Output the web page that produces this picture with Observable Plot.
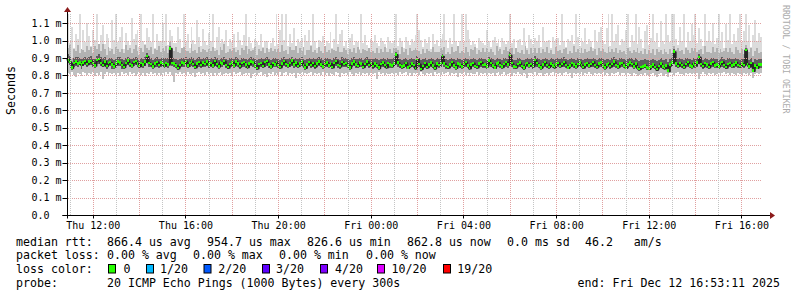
<!DOCTYPE html>
<html>
<head>
<meta charset="utf-8">
<script src="https://cdn.jsdelivr.net/npm/d3@7"></script>
<script src="https://cdn.jsdelivr.net/npm/@observablehq/plot@0.6"></script>
<style>
  html, body { margin: 0; padding: 0; background: #fff; }
  #wrap { position: relative; width: 797px; height: 297px; overflow: hidden; }
  #wrap svg { position: absolute; left: 0; top: 0; }
</style>
</head>
<body>
<div id="wrap"></div>
<script>
// ---- Data (microseconds), one value per 300 s step, 360 steps ending Fri Dec 12 16:53:11 2025 ----
const median = [
892,878,846,871,880,868,875,862,874,883,866,879,
884,870,858,887,893,872,860,881,855,870,876,864,
852,868,880,874,861,849,872,885,866,858,876,882,
868,854,871,862,880,910,872,866,852,869,878,861,
874,866,858,870,864,955,872,868,856,842,861,875,
868,883,856,872,879,866,848,869,877,860,873,866,
880,862,871,858,884,866,852,875,869,883,860,847,
866,874,858,881,868,853,870,876,862,849,867,880,
874,858,842,866,872,855,878,884,862,851,870,863,
876,860,848,869,882,865,857,871,886,862,874,855,
868,880,859,845,864,877,860,872,853,869,881,864,
852,866,875,858,869,848,872,884,861,854,878,866,
871,858,846,867,879,862,855,874,868,849,866,880,
860,872,853,868,858,844,866,875,860,848,871,862,
856,869,920,873,861,850,858,872,846,855,868,860,
842,895,866,838,853,870,848,862,874,856,843,867,
860,872,910,868,854,847,863,876,858,845,869,862,
851,866,877,858,843,862,871,855,848,867,876,859,
864,852,885,870,856,846,868,874,859,850,866,877,
862,917,870,852,848,866,873,855,844,862,871,858,
866,854,888,870,857,845,863,876,860,849,868,857,
848,864,872,855,866,878,860,846,858,870,862,851,
866,875,859,847,862,871,856,865,878,860,849,868,
874,858,845,862,870,853,866,879,861,850,868,872,
858,846,862,874,866,852,869,845,838,848,852,858,
846,840,852,862,848,836,855,868,850,842,858,827,
862,874,936,868,855,872,860,848,866,877,858,852,
868,861,874,905,866,853,870,862,848,867,876,858,
864,852,869,878,860,847,866,872,856,863,875,861,
854,868,860,945,866,852,871,828,858,846,864,863
];
// lowest ping of each step
const lo = [
812,806,818,800,790,815,808,796,820,811,803,814,
808,822,798,812,805,817,780,810,819,802,813,807,
816,804,811,795,820,809,814,801,818,806,812,799,
810,819,803,815,797,812,806,820,808,814,801,816,
805,813,798,818,810,821,803,765,812,806,819,808,
814,800,817,809,804,815,792,811,818,806,813,802,
818,808,813,799,816,805,812,820,803,810,815,807,
811,795,818,806,813,819,801,809,816,804,812,788,
806,815,800,812,818,804,810,791,814,807,819,802,
813,805,817,798,811,820,803,815,808,812,784,816,
809,818,802,814,806,811,819,800,813,808,816,805,
817,803,812,796,815,809,804,818,811,790,814,806,
812,805,818,808,797,814,810,819,803,815,806,812,
804,816,809,812,779,818,806,813,801,815,810,808,
815,808,812,800,817,806,811,819,804,813,798,816,
806,814,801,818,810,803,815,809,812,796,818,807,
813,805,817,806,811,820,802,814,808,816,793,812,
809,817,804,813,798,815,810,806,819,803,812,808,
816,802,811,808,815,795,812,818,805,810,817,803,
808,815,799,812,806,818,810,803,814,809,786,815,
812,806,818,803,811,815,797,809,816,805,812,820,
805,813,809,816,800,812,818,806,811,783,815,808,
814,808,817,802,811,806,819,810,804,815,808,812,
806,818,803,812,810,797,815,808,813,819,805,811,
812,804,816,808,799,811,806,795,802,810,805,813,
800,797,808,812,801,793,806,815,799,803,809,790,
811,816,805,812,819,806,810,803,815,808,812,806,
815,808,812,780,806,818,810,804,813,809,816,802,
808,815,803,811,817,806,812,800,814,809,805,816,
810,804,813,808,815,801,811,785,806,812,809,814
];
// distance of the lower quartile below the median
const q1Gap = [
22,18,14,25,28,20,17,24,19,26,15,21,
27,19,16,23,30,18,14,25,20,17,22,26,
15,21,28,19,24,13,20,27,18,16,23,25,
19,14,22,17,26,40,21,18,15,23,27,20,
24,18,15,22,19,60,20,17,14,12,21,25,
18,26,15,22,24,19,13,20,27,16,23,18,
25,17,21,15,28,19,14,23,20,26,17,13,
19,24,15,27,20,14,22,25,17,13,19,26,
23,16,12,20,24,15,27,29,18,14,21,17,
25,18,13,20,28,19,15,22,30,17,24,14,
19,27,16,13,20,25,17,23,14,19,28,18,
14,20,25,16,22,13,21,29,17,15,26,19,
22,16,13,20,27,18,15,24,21,13,19,28,
17,23,14,21,16,12,19,25,17,13,22,18,
15,20,55,24,18,13,16,23,12,15,21,17,
12,38,20,10,15,23,13,18,25,16,12,20,
17,24,45,20,15,13,18,26,16,12,21,19,
14,20,27,16,11,18,23,15,13,20,26,17,
19,14,30,22,16,12,21,25,17,13,20,27,
18,48,22,14,12,20,24,15,11,18,23,16,
20,15,32,22,16,12,19,26,17,13,21,15,
13,19,24,15,20,27,17,12,16,22,18,14,
20,26,16,12,18,23,15,19,28,17,13,21,
25,16,12,18,22,14,20,29,17,13,21,24,
16,12,18,25,20,14,22,13,10,12,15,17,
13,11,15,20,14,10,16,23,14,12,18,9,
18,25,62,20,15,24,17,13,20,27,16,14,
21,18,25,42,19,14,22,17,13,20,26,16,
19,14,21,27,17,12,20,24,15,18,26,17,
14,21,17,70,20,14,23,9,16,12,19,20
];
// distance of the upper quartile above the median
const q3Gap = [
28,35,22,30,26,38,24,32,27,21,34,29,
25,31,37,23,28,34,40,26,33,29,24,36,
38,27,24,31,35,42,29,22,33,37,26,25,
30,36,27,33,24,20,29,35,39,28,25,32,
27,33,38,29,35,15,28,32,37,45,31,26,
30,24,36,28,25,34,41,29,26,35,27,32,
24,33,28,37,22,31,39,27,30,23,34,42,
31,27,36,23,30,38,29,25,34,41,32,24,
26,35,44,30,27,37,24,21,33,39,28,34,
25,33,40,29,22,31,36,28,20,34,26,38,
30,23,35,42,31,25,34,28,39,30,22,33,
38,31,26,35,29,41,28,21,33,37,25,31,
28,36,42,30,24,34,38,27,31,41,32,23,
34,28,39,31,36,44,30,26,35,40,29,33,
37,30,12,29,34,40,36,28,43,38,31,35,
45,18,31,48,39,29,42,33,27,37,44,30,
34,28,15,30,38,43,32,26,36,42,29,33,
39,31,25,35,44,33,28,37,41,30,26,36,
32,39,22,29,36,42,30,27,35,40,31,25,
33,16,29,38,41,31,27,36,43,32,28,35,
31,38,22,29,35,43,32,26,34,40,30,36,
41,32,28,37,31,25,34,42,36,29,33,39,
31,26,35,42,33,28,37,31,24,34,40,30,
27,36,43,33,29,38,31,25,34,40,30,28,
35,42,33,27,31,38,30,43,47,40,37,34,
42,46,38,32,40,48,36,29,39,44,35,50,
32,26,14,30,37,28,34,41,31,25,35,38,
30,34,27,18,31,38,29,33,41,30,26,35,
31,37,29,25,33,40,31,28,36,32,26,34,
36,29,33,10,31,38,28,50,35,41,32,29
];
// distance of the 90th percentile ping above the upper quartile
const p90Gap = [
40,62,25,48,35,70,30,55,44,28,66,38,
52,30,75,42,58,33,80,45,27,64,39,50,
34,68,47,29,56,40,72,36,60,31,49,65,
43,28,58,37,70,30,46,62,33,54,41,74,
36,59,45,67,31,20,52,39,71,48,34,57,
63,35,49,28,74,42,56,30,60,38,51,45,
30,57,41,69,34,50,27,62,44,73,36,48,
55,40,66,32,47,28,61,43,70,35,52,38,
46,72,33,57,40,65,29,50,37,68,42,54,
31,60,44,75,36,52,28,63,41,48,70,34,
58,38,67,30,49,42,73,35,56,29,61,45,
40,69,33,54,28,62,46,37,71,43,31,58,
47,30,64,39,55,33,70,42,28,59,48,36,
62,35,48,27,66,40,53,31,69,44,37,57,
33,59,25,46,30,71,38,52,27,64,42,49,
68,30,45,37,58,29,62,43,34,70,48,39,
41,55,22,66,32,47,28,60,38,53,72,35,
50,31,63,40,27,57,44,69,35,48,30,61,
36,64,30,52,42,27,70,39,56,33,47,62,
45,20,58,34,67,40,29,53,38,72,44,31,
59,37,48,28,63,42,55,33,70,39,46,30,
34,67,41,56,30,49,62,37,45,28,71,43,
52,30,64,40,57,33,46,69,38,55,29,61,
37,58,45,31,66,42,53,28,62,40,49,35,
48,33,60,41,29,55,37,70,44,52,31,58,
35,62,40,57,30,68,43,51,36,64,39,47,
56,29,20,45,66,38,52,31,60,42,35,70,
41,60,34,25,55,30,67,39,48,33,62,44,
65,37,52,30,46,71,36,58,40,29,63,48,
39,54,31,18,62,43,57,35,49,68,33,45
];
// highest ping of each step
const hi = [
1150,985,1080,960,1040,1010,1150,940,1060,990,1100,1025,
970,1060,1005,1150,955,1030,1090,980,1040,1015,960,1120,
1005,1150,990,1020,1080,950,1045,1000,975,1130,1010,1040,
1060,965,1150,1000,980,1070,1020,990,1150,960,1035,1000,
995,1100,1000,1150,975,1060,1025,985,985,1080,1010,960,
1150,990,1040,955,1075,1005,980,1120,1020,970,1065,995,
975,1045,1000,1150,960,1020,1080,985,1010,990,1060,970,
1010,990,1040,965,1050,1005,975,1030,1150,970,1020,985,
960,1010,990,975,1040,965,1000,995,950,985,1015,970,
1150,980,1060,1150,1005,1150,970,1035,985,1070,960,1010,
990,1015,965,1030,1000,1060,975,1150,995,955,1005,990,
1025,970,995,985,1050,960,1010,1150,980,1040,1060,970,
1000,955,1015,1040,975,1000,990,950,1150,985,1030,975,
960,1010,990,1030,985,970,1015,1000,980,960,1020,1000,
985,1000,1150,970,1015,995,955,1020,1000,975,1010,990,
1030,1150,1060,1005,965,1010,985,1020,950,1035,980,1005,
970,1010,1040,1150,1005,955,1015,980,1150,995,965,1000,
1150,990,1150,1060,1010,975,995,980,955,1015,1000,985,
975,1060,1000,965,1005,1020,985,1010,965,1015,995,980,
1000,1150,985,1010,950,1005,1010,975,1070,990,960,1030,
1010,980,1015,995,1030,965,1080,990,1000,1005,955,1020,
990,1010,1015,975,1150,1000,965,1010,995,1030,980,1150,
1020,970,1015,990,1070,980,1010,1000,960,1060,990,1050,
1080,1000,980,1070,1150,970,1150,995,1035,1090,975,1010,
995,1060,1150,965,1030,1000,1150,980,1075,1010,955,1055,
1090,975,1015,1150,990,1045,965,1110,1000,980,1150,1030,
990,1150,1150,1010,975,1080,1000,1150,965,1050,995,1095,
1030,1150,985,1070,1010,970,1150,1000,1055,990,1100,980,
1015,1150,995,1050,960,1095,1005,1150,980,1040,1000,1070,
1150,990,1055,1150,1000,1090,965,1030,1120,995,1045,1020
];

const yTicks = [0, 0.1, 0.2, 0.3, 0.4, 0.5, 0.6, 0.7, 0.8, 0.9, 1.0, 1.1]; // ms
const xTickTimes = ["2025-12-11T12:00:00Z","2025-12-11T16:00:00Z","2025-12-11T20:00:00Z","2025-12-12T00:00:00Z",
                    "2025-12-12T04:00:00Z","2025-12-12T08:00:00Z","2025-12-12T12:00:00Z","2025-12-12T16:00:00Z"];
const xTickLabels = ["Thu 12:00","Thu 16:00","Thu 20:00","Fri 00:00","Fri 04:00","Fri 08:00","Fri 12:00","Fri 16:00"];

const lossNames = ["0", "1/20", "2/20", "3/20", "4/20", "10/20", "19/20"];
const lossColors = ["#26ff00", "#00b8ff", "#0059ff", "#5e00ff", "#7e00ff", "#dd00ff", "#ff0000"];

const statLine1 = ["median rtt:", "866.4 us avg", "954.7 us max", "826.6 us min", "862.8 us now", "0.0 ms sd", "46.2   am/s"];
const statLine2 = ["packet loss:", "0.00 % avg", "0.00 % max", "0.00 % min", "0.00 % now"];
const probeText = ["probe:", "20 ICMP Echo Pings (1000 Bytes) every 300s"];
const endText = "end: Fri Dec 12 16:53:11 2025";

// ---- Build rows ----
const END = Date.UTC(2025, 11, 12, 16, 53, 11);
const STEP = 300 * 1000;
const N = median.length;
const T0 = END - N * STEP;
const rows = median.map((m, i) => {
  const q1 = m - q1Gap[i], q3 = m + q3Gap[i], p90 = q3 + p90Gap[i];
  return {
    x1: new Date(T0 + i * STEP), x2: new Date(T0 + (i + 1) * STEP),
    m: m / 1000, lo: Math.min(lo[i], q1) / 1000, q1: q1 / 1000, q3: q3 / 1000,
    p90: p90 / 1000, hi: Math.max(hi[i], p90) / 1000
  };
});
const hours = d3.utcHour.range(new Date(T0), new Date(END));
const xTicks = xTickTimes.map(s => new Date(s));

const FONT = "DejaVu Sans Mono";
const NS = "http://www.w3.org/2000/svg";
const HALF = 0.0072; // half height (ms) of the median band

function mk(g, tag, attrs) {
  const e = document.createElementNS(NS, tag);
  for (const k in attrs) e.setAttribute(k, attrs[k]);
  g.appendChild(e);
  return e;
}

// dotted grid, pixel aligned: pink for even hours and every 0.1 ms, grey for odd hours
function grid(index, scales, values, dim) {
  const g = document.createElementNS(NS, "g");
  const xl = dim.marginLeft, xr = dim.width - dim.marginRight;
  const yt = dim.marginTop, yb = dim.height - dim.marginBottom;
  for (const v of yTicks) {
    if (v === 0) continue;
    const y = Math.round(scales.y(v)) + 0.5;
    mk(g, "line", {x1: xl + 1, x2: xr, y1: y, y2: y, stroke: "#e0a0a0", "stroke-dasharray": "1,1"});
  }
  for (const h of hours) {
    const x = Math.round(scales.x(h)) + 0.5;
    const major = h.getUTCHours() % 2 === 0;
    mk(g, "line", {x1: x, x2: x, y1: yt, y2: yb, stroke: major ? "#e0a0a0" : "#c4c4c4", "stroke-dasharray": "1,1"});
  }
  return g;
}

function axes(index, scales, values, dim) {
  const g = document.createElementNS(NS, "g");
  const xl = dim.marginLeft + 0.5;
  const yb = dim.height - dim.marginBottom + 0.5;
  const xr = dim.width - dim.marginRight;
  for (const v of yTicks) {
    const y = Math.round(scales.y(v)) + 0.5;
    mk(g, "line", {x1: xl - 5, x2: xl, y1: y, y2: y, stroke: "#000"});
  }
  for (const t of xTicks) {
    const x = Math.round(scales.x(t)) + 0.5;
    mk(g, "line", {x1: x, x2: x, y1: yb, y2: yb + 3, stroke: "#000"});
  }
  mk(g, "line", {x1: xl - 5, x2: xr + 8, y1: yb, y2: yb, stroke: "#000"});
  mk(g, "line", {x1: xl, x2: xl, y1: yb + 3, y2: dim.marginTop - 3, stroke: "#000"});
  mk(g, "path", {d: `M${xr + 8},${yb - 3.5}L${xr + 13},${yb}L${xr + 8},${yb + 3.5}Z`, fill: "#8b1a1a"});
  mk(g, "path", {d: `M${xl - 3.5},${dim.marginTop - 2}L${xl},${dim.marginTop - 7}L${xl + 3.5},${dim.marginTop - 2}Z`, fill: "#8b1a1a"});
  return g;
}

const crisp = {shapeRendering: "crispEdges"};
const chart = Plot.plot({
  width: 797, height: 297,
  marginLeft: 67, marginRight: 35, marginTop: 14, marginBottom: 82,
  x: {type: "utc", domain: [new Date(T0), new Date(END)], axis: null},
  y: {domain: [0, 1.152], axis: null},
  style: {fontFamily: FONT, background: "#fff", color: "#000"},
  marks: [
    Plot.rect(rows, {x1: "x1", x2: "x2", y1: "p90", y2: "hi", fill: "#dcdcdc", ...crisp}),
    Plot.rect(rows, {x1: "x1", x2: "x2", y1: "q3", y2: "p90", fill: "#b2b2b2", ...crisp}),
    Plot.rect(rows, {x1: "x1", x2: "x2", y1: "lo", y2: "q1", fill: "#c0c0c0", ...crisp}),
    Plot.rect(rows, {x1: "x1", x2: "x2", y1: "q1", y2: "q3", fill: "#5e5e5e", ...crisp}),
    Plot.line(rows, {x: "x1", y: "m", curve: "step-after", stroke: "#262626", strokeWidth: 2}),
    Plot.rect(rows, {x1: "x1", x2: "x2", y1: d => d.m - HALF, y2: d => d.m + HALF, fill: lossColors[0], ...crisp}),
    grid,
    Plot.text(yTicks, {y: d => d, text: d => d === 0 ? "0.0" : d.toFixed(1) + " m", frameAnchor: "left", dx: -36, textAnchor: "start", lineAnchor: "middle", fontSize: 10, fill: "#000"}),
    Plot.text(xTicks, {x: d => d, text: (d, i) => xTickLabels[i], frameAnchor: "bottom", dy: 13, lineAnchor: "bottom", textAnchor: "middle", fontSize: 10, fill: "#000"}),
    Plot.text(["Seconds"], {frameAnchor: "left", dx: -56, rotate: -90, fontSize: 11.6, fill: "#000"}),
    axes
  ]
});
document.getElementById("wrap").appendChild(chart);

// ---- Footer legend (below the plot frame) ----
const ov = d3.select("#wrap").append("svg")
  .attr("width", 797).attr("height", 297)
  .style("pointer-events", "none")
  .attr("font-family", FONT).attr("font-size", 11.6).attr("fill", "#000");

const row1X = [16, 107, 207, 307, 407, 507, 585];
statLine1.forEach((s, i) => ov.append("text").attr("x", row1X[i]).attr("y", 245.5).style("white-space", "pre").text(s));
const row2X = [16, 107, 193, 279, 366];
statLine2.forEach((s, i) => ov.append("text").attr("x", row2X[i]).attr("y", 259.3).style("white-space", "pre").text(s));
ov.append("text").attr("x", 16).attr("y", 273.3).text("loss color:");
const boxX = [108, 146, 203.5, 262, 320, 377, 443];
const nameX = [123.5, 160, 218.3, 276, 335, 391.5, 457.3];
lossNames.forEach((s, i) => {
  ov.append("rect").attr("x", boxX[i] + 0.5).attr("y", 264.5).attr("width", 7).attr("height", 8.5)
    .attr("fill", lossColors[i]).attr("stroke", "#000").attr("stroke-width", 1);
  ov.append("text").attr("x", nameX[i]).attr("y", 273.3).text(s);
});
ov.append("text").attr("x", 16).attr("y", 287).text(probeText[0]);
ov.append("text").attr("x", 107).attr("y", 287).text(probeText[1]);
ov.append("text").attr("x", 780).attr("y", 287).attr("text-anchor", "end").text(endText);
ov.append("text").attr("transform", "translate(783,5) rotate(90)").attr("font-size", 8.2).attr("fill", "#ababab").text("RRDTOOL / TOBI OETIKER");
</script>
</body>
</html>
